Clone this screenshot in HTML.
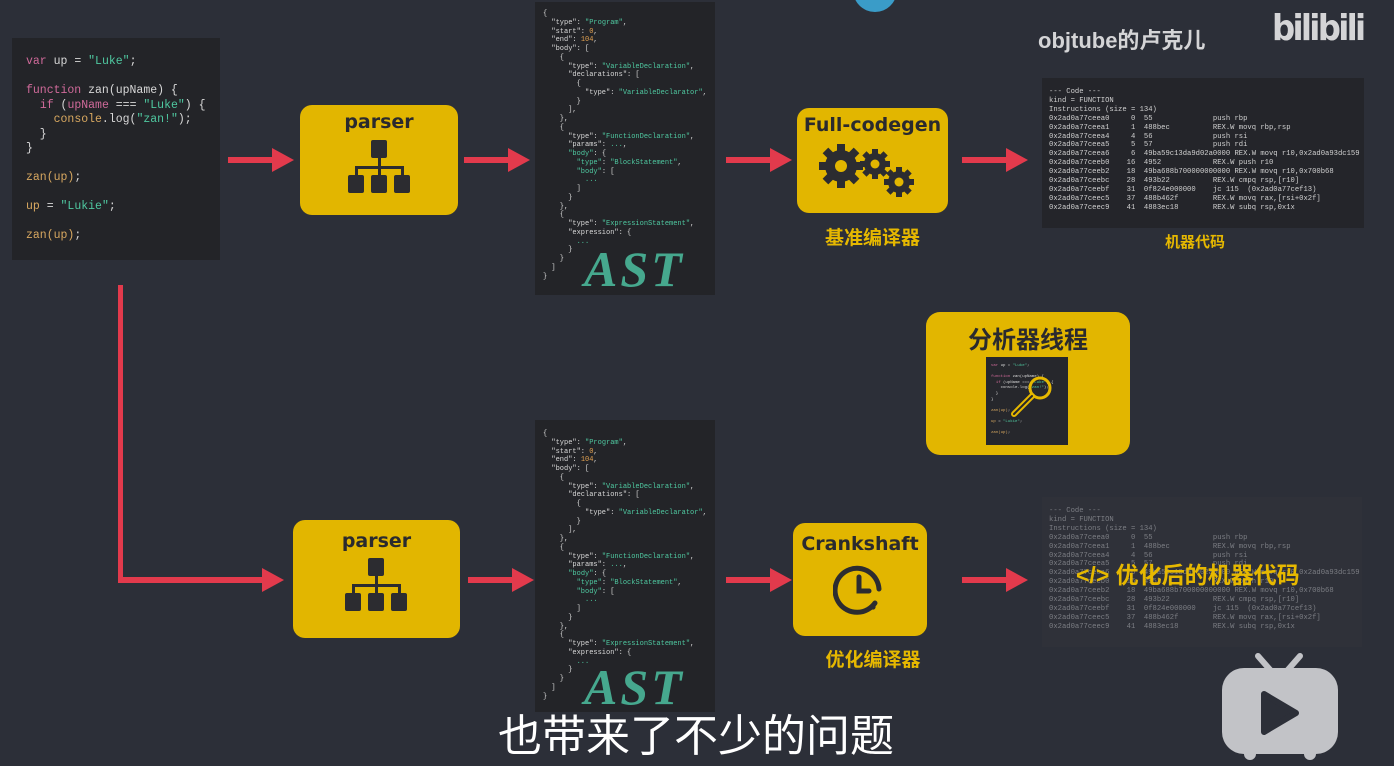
<!DOCTYPE html>
<html><head><meta charset="utf-8"><style>
*{margin:0;padding:0;box-sizing:border-box}
body{width:1394px;height:766px;background:#2c2f38;position:relative;overflow:hidden;font-family:"Liberation Sans","Noto Sans CJK SC",sans-serif}
.abs{position:absolute}
.code{background:#232428;position:absolute}
pre{font-family:"Liberation Mono","DejaVu Sans Mono",monospace;white-space:pre;color:#d8d8d8}
.k{color:#d06a9a}.s{color:#4fc8a0}.o{color:#d8a860}.n{color:#e0a050}
.box{position:absolute;background:#e2b600;border-radius:12px}
.btitle{position:absolute;left:0;right:0;text-align:center;color:#2a2a2e;font-weight:bold;font-family:"DejaVu Sans",sans-serif}
.lbl{position:absolute;color:#e6b800;font-weight:bold;font-size:19px;text-align:center}
.ast{position:absolute;font-family:"Liberation Serif",serif;font-style:italic;font-weight:bold;color:#46a88e;font-size:50px;letter-spacing:3px}
</style></head><body>

<div class="code" style="left:12px;top:38px;width:208px;height:222px"></div>
<pre class="abs" style="left:26px;top:55px;font-size:11.5px;line-height:14.5px"><span class="k">var</span> up = <span class="s">"Luke"</span>;

<span class="k">function</span> zan(upName) {
  <span class="k">if</span> (<span class="k">upName</span> === <span class="s">"Luke"</span>) {
    <span class="o">console</span>.log(<span class="s">"zan!"</span>);
  }
}

<span class="o">zan(up)</span>;

<span class="o">up</span> = <span class="s">"Lukie"</span>;

<span class="o">zan(up)</span>;</pre>

<svg class="abs" style="left:0;top:0" width="1394" height="766">
<g fill="#e23a4c" stroke="none">
<rect x="228" y="157" width="45" height="6"/><polygon points="272,148 294,160 272,172"/>
<rect x="464" y="157" width="45" height="6"/><polygon points="508,148 530,160 508,172"/>
<rect x="726" y="157" width="45" height="6"/><polygon points="770,148 792,160 770,172"/>
<rect x="962" y="157" width="45" height="6"/><polygon points="1006,148 1028,160 1006,172"/>
<rect x="118" y="285" width="5" height="297"/><rect x="118" y="577" width="145" height="6"/><polygon points="262,568 284,580 262,592"/>
<rect x="468" y="577" width="45" height="6"/><polygon points="512,568 534,580 512,592"/>
<rect x="726" y="577" width="45" height="6"/><polygon points="770,568 792,580 770,592"/>
<rect x="962" y="577" width="45" height="6"/><polygon points="1006,568 1028,580 1006,592"/>
</g>
<circle cx="875" cy="-10" r="22" fill="#3a9cc8"/>
</svg>

<div class="box" style="left:300px;top:105px;width:158px;height:110px">
<div class="btitle" style="top:6px;font-size:19px">parser</div>
<svg class="abs" style="left:46px;top:35px" width="66" height="64"><g fill="#2c2c30"><rect x="25" y="0" width="16" height="18" rx="2"/><rect x="32" y="18" width="3" height="10"/><rect x="9" y="26" width="49" height="3"/><rect x="9" y="26" width="3" height="10"/><rect x="32" y="26" width="3" height="10"/><rect x="55" y="26" width="3" height="10"/><rect x="2" y="35" width="16" height="18" rx="2"/><rect x="25" y="35" width="16" height="18" rx="2"/><rect x="48" y="35" width="16" height="18" rx="2"/></g></svg>
</div>
<div class="box" style="left:293px;top:520px;width:167px;height:118px">
<div class="btitle" style="top:10px;font-size:19px">parser</div>
<svg class="abs" style="left:50px;top:38px" width="66" height="64"><g fill="#2c2c30"><rect x="25" y="0" width="16" height="18" rx="2"/><rect x="32" y="18" width="3" height="10"/><rect x="9" y="26" width="49" height="3"/><rect x="9" y="26" width="3" height="10"/><rect x="32" y="26" width="3" height="10"/><rect x="55" y="26" width="3" height="10"/><rect x="2" y="35" width="16" height="18" rx="2"/><rect x="25" y="35" width="16" height="18" rx="2"/><rect x="48" y="35" width="16" height="18" rx="2"/></g></svg>
</div>

<div class="code" style="left:535px;top:2px;width:180px;height:293px"></div>
<pre class="abs" style="left:543px;top:10px;font-size:7px;line-height:8.75px">{
  "type": <span class="s">"Program"</span>,
  "start": <span class="n">0</span>,
  "end": <span class="n">104</span>,
  "body": [
    {
      "type": <span class="s">"VariableDeclaration"</span>,
      "declarations": [
        {
          "type": <span class="s">"VariableDeclarator"</span>,
        }
      ],
    },
    {
      "type": <span class="s">"FunctionDeclaration"</span>,
      "params": <span class="s">...</span>,
      <span class="s">"body"</span>: {
        <span class="s">"type"</span>: <span class="s">"BlockStatement"</span>,
        <span class="s">"body"</span>: [
          <span class="s">...</span>
        ]
      }
    },
    {
      "type": <span class="s">"ExpressionStatement"</span>,
      "expression": {
        <span class="s">...</span>
      }
    }
  ]
}</pre>
<div class="ast" style="left:584px;top:240px">AST</div>

<div class="code" style="left:535px;top:420px;width:180px;height:292px"></div>
<pre class="abs" style="left:543px;top:430px;font-size:7px;line-height:8.75px">{
  "type": <span class="s">"Program"</span>,
  "start": <span class="n">0</span>,
  "end": <span class="n">104</span>,
  "body": [
    {
      "type": <span class="s">"VariableDeclaration"</span>,
      "declarations": [
        {
          "type": <span class="s">"VariableDeclarator"</span>,
        }
      ],
    },
    {
      "type": <span class="s">"FunctionDeclaration"</span>,
      "params": <span class="s">...</span>,
      <span class="s">"body"</span>: {
        <span class="s">"type"</span>: <span class="s">"BlockStatement"</span>,
        <span class="s">"body"</span>: [
          <span class="s">...</span>
        ]
      }
    },
    {
      "type": <span class="s">"ExpressionStatement"</span>,
      "expression": {
        <span class="s">...</span>
      }
    }
  ]
}</pre>
<div class="ast" style="left:584px;top:658px">AST</div>

<div class="box" style="left:797px;top:108px;width:151px;height:105px">
<div class="btitle" style="top:6px;font-size:19px">Full-codegen</div>
<svg class="abs" style="left:22px;top:34px" width="110" height="60">
<g fill="#2c2c30">
<circle cx="22" cy="24" r="16"/><g transform="translate(22,24)"><rect x="-4" y="-22" width="8" height="44"/><rect x="-4" y="-22" width="8" height="44" transform="rotate(45)"/><rect x="-4" y="-22" width="8" height="44" transform="rotate(90)"/><rect x="-4" y="-22" width="8" height="44" transform="rotate(135)"/></g>
<circle cx="56" cy="22" r="11"/><g transform="translate(56,22)"><rect x="-3" y="-15" width="6" height="30"/><rect x="-3" y="-15" width="6" height="30" transform="rotate(45)"/><rect x="-3" y="-15" width="6" height="30" transform="rotate(90)"/><rect x="-3" y="-15" width="6" height="30" transform="rotate(135)"/></g>
<circle cx="80" cy="40" r="11"/><g transform="translate(80,40)"><rect x="-3" y="-15" width="6" height="30"/><rect x="-3" y="-15" width="6" height="30" transform="rotate(45)"/><rect x="-3" y="-15" width="6" height="30" transform="rotate(90)"/><rect x="-3" y="-15" width="6" height="30" transform="rotate(135)"/></g>
</g>
<g fill="#e2b600"><circle cx="22" cy="24" r="6"/><circle cx="56" cy="22" r="4.5"/><circle cx="80" cy="40" r="4.5"/></g>
</svg>
</div>
<div class="lbl" style="left:797px;width:151px;top:223px">基准编译器</div>

<div class="box" style="left:793px;top:523px;width:134px;height:113px">
<div class="btitle" style="top:10px;font-size:19px">Crankshaft</div>
<svg class="abs" style="left:40px;top:40px" width="56" height="56"><path d="M42 40 A22 22 0 1 1 46 26" fill="none" stroke="#2c2c30" stroke-width="5" stroke-linecap="round"/><circle cx="40" cy="44" r="2.6" fill="#2c2c30"/><path d="M26 14 V28 H36" fill="none" stroke="#2c2c30" stroke-width="5" stroke-linecap="round"/></svg>
</div>
<div class="lbl" style="left:793px;width:160px;top:645px">优化编译器</div>

<div class="code" style="left:1042px;top:78px;width:322px;height:150px;background:#24252a"></div>
<pre class="abs" style="left:1049px;top:88px;font-size:7.2px;line-height:8.9px;color:#d0d0d0">--- Code ---
kind = FUNCTION
Instructions (size = 134)
0x2ad0a77ceea0     0  55              push rbp
0x2ad0a77ceea1     1  488bec          REX.W movq rbp,rsp
0x2ad0a77ceea4     4  56              push rsi
0x2ad0a77ceea5     5  57              push rdi
0x2ad0a77ceea6     6  49ba59c13da9d02a0000 REX.W movq r10,0x2ad0a93dc159
0x2ad0a77ceeb0    16  4952            REX.W push r10
0x2ad0a77ceeb2    18  49ba688b700000000000 REX.W movq r10,0x700b68
0x2ad0a77ceebc    28  493b22          REX.W cmpq rsp,[r10]
0x2ad0a77ceebf    31  0f824e000000    jc 115  (0x2ad0a77cef13)
0x2ad0a77ceec5    37  488b462f        REX.W movq rax,[rsi+0x2f]
0x2ad0a77ceec9    41  4883ec18        REX.W subq rsp,0x1x</pre>
<div class="lbl" style="left:1130px;width:130px;top:231px;font-size:15px">机器代码</div>

<div class="code" style="left:1042px;top:497px;width:320px;height:150px;background:#2f3139"></div>
<pre class="abs" style="left:1049px;top:507px;font-size:7.2px;line-height:8.9px;color:#7c7e84">--- Code ---
kind = FUNCTION
Instructions (size = 134)
0x2ad0a77ceea0     0  55              push rbp
0x2ad0a77ceea1     1  488bec          REX.W movq rbp,rsp
0x2ad0a77ceea4     4  56              push rsi
0x2ad0a77ceea5     5  57              push rdi
0x2ad0a77ceea6     6  49ba59c13da9d02a0000 REX.W movq r10,0x2ad0a93dc159
0x2ad0a77ceeb0    16  4952            REX.W push r10
0x2ad0a77ceeb2    18  49ba688b700000000000 REX.W movq r10,0x700b68
0x2ad0a77ceebc    28  493b22          REX.W cmpq rsp,[r10]
0x2ad0a77ceebf    31  0f824e000000    jc 115  (0x2ad0a77cef13)
0x2ad0a77ceec5    37  488b462f        REX.W movq rax,[rsi+0x2f]
0x2ad0a77ceec9    41  4883ec18        REX.W subq rsp,0x1x</pre>
<div class="abs" style="left:1076px;top:556px;color:#e6b800;font-weight:bold;font-size:23px;white-space:nowrap">&lt;/&gt; 优化后的机器代码</div>

<div class="box" style="left:926px;top:312px;width:204px;height:143px;border-radius:14px">
<div class="btitle" style="top:8px;font-size:24px;font-family:'Noto Sans CJK SC',sans-serif">分析器线程</div>
<div class="abs" style="left:60px;top:45px;width:82px;height:88px;background:#26272c"></div>
<pre class="abs" style="left:65px;top:52px;font-size:4px;line-height:5.6px"><span class="k">var</span> up = <span class="s">"Luke"</span>;

<span class="k">function</span> zan(upName) {
  <span class="k">if</span> (upName === <span class="s">"Luke"</span>) {
    console.log(<span class="s">"zan!"</span>);
  }
}

<span class="o">zan(up)</span>;

<span class="o">up</span> = <span class="s">"Lukie"</span>;

<span class="o">zan(up)</span>;</pre>
<svg class="abs" style="left:80px;top:62px" width="50" height="45"><circle cx="34" cy="14" r="10" fill="none" stroke="#e6b800" stroke-width="3"/><line x1="26" y1="22" x2="8" y2="40" stroke="#e6b800" stroke-width="6" stroke-linecap="round"/><line x1="26" y1="22" x2="8" y2="40" stroke="#26272c" stroke-width="2" stroke-linecap="round"/></svg>
</div>

<div class="abs" style="left:1038px;top:23px;color:#d4d4d6;font-size:22px;font-weight:bold;white-space:nowrap">objtube的卢克儿</div>
<div class="abs" style="left:1272px;top:8px;color:#d4d4d6;font-size:36px;font-weight:bold;letter-spacing:-3px;font-family:'DejaVu Sans',sans-serif;transform:scaleX(0.9);transform-origin:left">bilibili</div>

<div class="abs" style="left:498px;top:700px;color:#ffffff;font-size:44px;white-space:nowrap;font-family:'Noto Sans CJK SC',sans-serif">也带来了不少的问题</div>

<svg class="abs" style="left:1218px;top:648px" width="124" height="115">
<g stroke="#c2c3c7" stroke-width="6" stroke-linecap="round"><line x1="40" y1="8" x2="54" y2="24"/><line x1="82" y1="8" x2="68" y2="24"/></g>
<rect x="4" y="20" width="116" height="86" rx="22" fill="#c2c3c7"/>
<circle cx="32" cy="106" r="6" fill="#c2c3c7"/><circle cx="92" cy="106" r="6" fill="#c2c3c7"/>
<polygon points="46,46 46,84 78,65" fill="#2c2f38" stroke="#2c2f38" stroke-width="6" stroke-linejoin="round"/>
</svg>
</body></html>
